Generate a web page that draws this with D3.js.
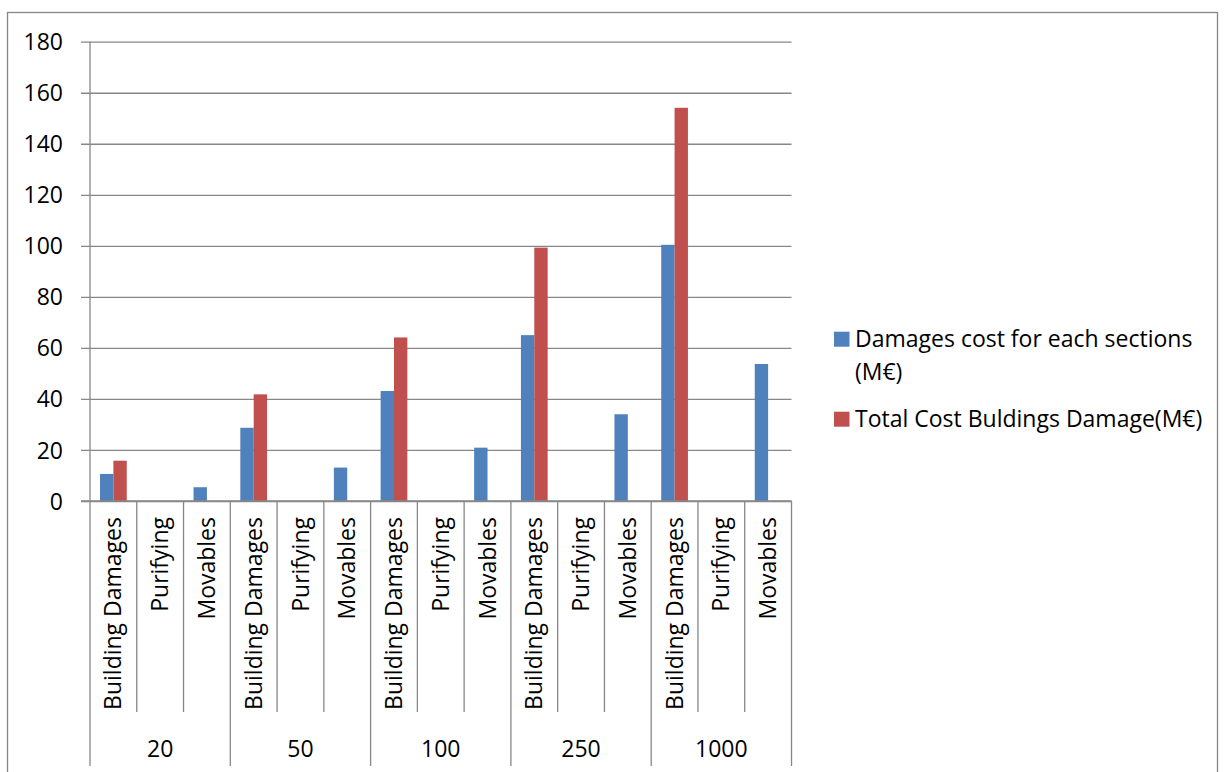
<!DOCTYPE html>
<html>
<head>
<meta charset="utf-8">
<script src="https://cdn.jsdelivr.net/npm/d3@7"></script>
<style>
  html, body { margin: 0; padding: 0; background: #ffffff; }
  svg { display: block; }
  text { font-family: "Open Sans", "Noto Sans", sans-serif; fill: #000; }
</style>
</head>
<body>
<svg id="chart" width="1225" height="772"></svg>
<script>
// Return periods (outer category level) and cost sections (inner level)
const groups = ["20", "50", "100", "250", "1000"];
const sections = ["Building Damages", "Purifying", "Movables"];

// Damages cost for each section (M€), in group order
const sectionCost = [10.6, 0, 5.4, 28.7, 0, 13.1, 43.1, 0, 20.9, 65.0, 0, 34.0, 100.4, 0, 53.7];
// Total cost of building damage (M€), only given for the Building Damages rows
const totalBuildingCost = [15.8, null, null, 41.8, null, null, 64.1, null, null, 99.3, null, null, 154.1, null, null];

const seriesNames = ["Damages cost for each sections (M€)", "Total Cost Buldings Damage(M€)"];
const seriesColors = ["#4F81BD", "#C0504D"];
const yTicks = [0, 20, 40, 60, 80, 100, 120, 140, 160, 180];

const rows = [];
groups.forEach((g, gi) => sections.forEach((s, si) => {
  const i = gi * sections.length + si;
  rows.push({ key: g + "|" + s, group: g, section: s, values: [sectionCost[i], totalBuildingCost[i]] });
}));

const svg = d3.select("#chart");
const gridColor = "#878787";
const fontSize = "23px";

// chart frame
svg.append("rect")
  .attr("x", 7.5).attr("y", 12.5).attr("width", 1210).attr("height", 800)
  .attr("fill", "none").attr("stroke", gridColor).attr("stroke-width", 1.3);

const plot = { left: 90, right: 791.5, top: 41.7, bottom: 501 };

const x = d3.scaleBand().domain(rows.map(r => r.key)).range([plot.left, plot.right]).padding(0);
const xs = d3.scaleBand().domain([0, 1]).range([0, x.bandwidth()]).paddingInner(0).paddingOuter(0.75);
const y = d3.scaleLinear().domain([0, 180]).range([plot.bottom, plot.top]);

// horizontal gridlines with y-axis ticks
const yAxis = d3.axisLeft(y).tickValues(yTicks).tickSize(-(plot.right - plot.left)).tickPadding(0).tickFormat(d3.format("d"));
const ya = svg.append("g").attr("transform", `translate(${plot.left},0)`).call(yAxis);
ya.select(".domain").remove();
ya.selectAll(".tick line").attr("stroke", gridColor).attr("stroke-width", 1.3).attr("x1", -9);
ya.selectAll(".tick text").attr("x", -27).attr("dy", "0.35em")
  .style("font-size", fontSize).attr("fill", "#000");

// vertical axis line
svg.append("line")
  .attr("x1", plot.left).attr("x2", plot.left).attr("y1", plot.top).attr("y2", plot.bottom)
  .attr("stroke", gridColor).attr("stroke-width", 1.3);

// bars
const barG = svg.append("g");
rows.forEach(r => {
  r.values.forEach((v, si) => {
    if (v == null || v === 0) return;
    barG.append("rect")
      .attr("x", x(r.key) + xs(si))
      .attr("y", y(v))
      .attr("width", xs.bandwidth())
      .attr("height", y(0) - y(v))
      .attr("fill", seriesColors[si]);
  });
});

// category axis line
svg.append("line")
  .attr("x1", plot.left - 9).attr("x2", plot.right).attr("y1", plot.bottom).attr("y2", plot.bottom)
  .attr("stroke", gridColor).attr("stroke-width", 1.3);

// category dividers: short ones between sections, long ones between groups
const boundaries = d3.range(rows.length + 1);
svg.append("g").selectAll("line").data(boundaries).join("line")
  .attr("x1", i => i < rows.length ? x(rows[i].key) : plot.right)
  .attr("x2", i => i < rows.length ? x(rows[i].key) : plot.right)
  .attr("y1", plot.bottom)
  .attr("y2", i => i % sections.length === 0 ? 766 : 712)
  .attr("stroke", gridColor).attr("stroke-width", 1.3);

// inner category labels (rotated)
svg.append("g").selectAll("text").data(rows).join("text")
  .attr("transform", d => `translate(${x(d.key) + x.bandwidth() / 2},517) rotate(-90)`)
  .attr("text-anchor", "end").attr("dy", "0.35em")
  .style("font-size", fontSize)
  .text(d => d.section);

// outer group labels
svg.append("g").selectAll("text").data(groups).join("text")
  .attr("x", g => {
    const first = x(g + "|" + sections[0]);
    return first + x.bandwidth() * sections.length / 2;
  })
  .attr("y", 757)
  .attr("text-anchor", "middle")
  .style("font-size", fontSize)
  .text(g => g);

// legend
const legend = svg.append("g");
const legendItems = [
  { color: seriesColors[0], lines: ["Damages cost for each sections", "(M€)"], top: 331.7 },
  { color: seriesColors[1], lines: ["Total Cost Buldings Damage(M€)"], top: 411.7 }
];
legendItems.forEach(it => {
  legend.append("rect").attr("x", 834).attr("y", it.top).attr("width", 15.5).attr("height", 15)
    .attr("fill", it.color);
  it.lines.forEach((ln, li) => {
    legend.append("text").attr("x", 855).attr("y", it.top + 15 + li * 33)
      .style("font-size", fontSize).text(ln);
  });
});
</script>
</body>
</html>
